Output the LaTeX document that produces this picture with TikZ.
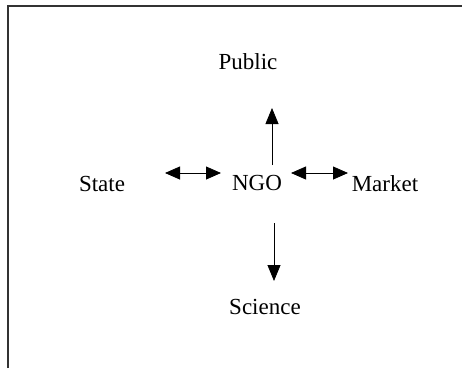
\documentclass[tikz,border=0pt]{standalone}
\usepackage{fontspec}
\setmainfont{Liberation Serif}
\usetikzlibrary{arrows.meta}
\begin{document}
\begin{tikzpicture}[x=1pt,y=-1pt,
  lbl/.style={font=\fontsize{23}{26}\selectfont, inner sep=0pt},
  conn/.style={line width=0.8pt, -{Triangle[length=16pt,width=13pt]}},
  biconn/.style={line width=0.8pt, {Triangle[length=15pt,width=13pt]}-{Triangle[length=15pt,width=13pt]}},
  frame/.style={line width=1.2pt, draw=black!80}]
\useasboundingbox (0,0) rectangle (462,368);
\draw[frame] (8,368) -- (8,6) -- (462,6);
\node[lbl] (public) at (248,62) {Public};
\node[lbl] (state) at (102,184) {State};
\node[lbl] (ngo) at (257,183) {NGO};
\node[lbl] (market) at (385,184) {Market};
\node[lbl] (science) at (265,307) {Science};
\coordinate (upS) at (272,165);
\coordinate (upE) at (272,108);
\coordinate (dnS) at (274,223);
\coordinate (dnE) at (274,281);
\coordinate (lA) at (165,173);
\coordinate (lB) at (221,173);
\coordinate (rA) at (291,173);
\coordinate (rB) at (348,173);
\draw[conn] (upS) -- (upE);
\draw[conn] (dnS) -- (dnE);
\draw[biconn] (lA) -- (lB);
\draw[biconn] (rA) -- (rB);
\end{tikzpicture}
\end{document}
